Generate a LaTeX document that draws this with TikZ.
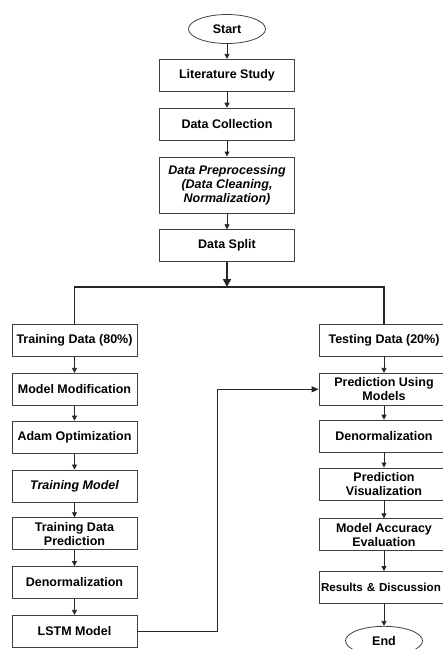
\documentclass[tikz,border=0pt]{standalone}
\usepackage{fontspec}
\setmainfont{Liberation Sans}
\usetikzlibrary{positioning,shapes.geometric,arrows.meta}

\begin{document}
\begin{tikzpicture}[x=1pt, y=1pt,
	font=\fontsize{12.5}{14}\selectfont\bfseries,
	box/.style={draw=black!75, line width=0.8pt, minimum height=32pt, inner xsep=2pt, inner ysep=2pt, align=center},
	midbox/.style={box, minimum width=135pt},
	leftbox/.style={box, minimum width=125pt},
	rightbox/.style={box, minimum width=130pt},
	term/.style={ellipse, draw=black!75, line width=0.8pt, minimum width=77pt, minimum height=29pt, inner sep=0pt},
	flow/.style={-{Triangle[length=5pt,width=5pt]}, line width=0.8pt, draw=black!85},
	main/.style={line width=1.6pt, draw=black!85}]
	\useasboundingbox (0,0) rectangle (443,-649);
	% centre column
	\node [term] (start) at (227,-29) {Start};
	\node [midbox, below=15pt of start] (lit) {Literature Study};
	\node [midbox, below=16pt of lit] (coll) {Data Collection};
	\node [midbox, minimum height=56pt, below=16pt of coll] (prep) {\itshape Data Preprocessing\\\itshape (Data Cleaning,\\\itshape Normalization)};
	\node [midbox, below=16pt of prep] (split) {Data Split};
	\coordinate (fork) at (227,-287);
	% left column
	\node [leftbox] (train) at (74.5,-340.5) {Training Data (80\%)};
	\node [leftbox, below=16pt of train] (modif) {Model Modification};
	\node [leftbox, below=15pt of modif] (adam) {Adam Optimization};
	\node [leftbox, below=16pt of adam] (trmod) {\itshape Training Model};
	\node [leftbox, below=15pt of trmod] (trpred) {Training Data\\Prediction};
	\node [leftbox, below=16pt of trpred] (denl) {Denormalization};
	\node [leftbox, below=16pt of denl] (lstm) {LSTM Model};
	% right column
	\node [rightbox] (test) at (384,-340.5) {Testing Data (20\%)};
	\node [rightbox, below=16pt of test] (pum) {Prediction Using\\Models};
	\node [rightbox, below=14pt of pum] (denr) {Denormalization};
	\node [rightbox, below=15pt of denr] (vis) {Prediction\\Visualization};
	\node [rightbox, below=18pt of vis] (acc) {Model Accuracy\\Evaluation};
	\node [rightbox, below=20pt of acc, text width=126pt, align=left, font=\fontsize{11.6}{14}\selectfont\bfseries] (res) {Results \& Discussion};
	\node [term, below=22pt of res] (end) {End};
	% connectors
	\draw [flow] (start) -- (lit);
	\draw [flow] (lit) -- (coll);
	\draw [flow] (coll) -- (prep);
	\draw [flow] (prep) -- (split);
	\draw [main, -{Triangle[length=8pt,width=8pt]}] (split) -- (fork);
	\draw [main] (train.north) |- (fork) -| (test.north);
	\draw [flow] (train) -- (modif);
	\draw [flow] (modif) -- (adam);
	\draw [flow] (adam) -- (trmod);
	\draw [flow] (trmod) -- (trpred);
	\draw [flow] (trpred) -- (denl);
	\draw [flow] (denl) -- (lstm);
	\draw [flow, line width=1.3pt, -{Triangle[length=7pt,width=6pt]}] (lstm.east) -- ++(80,0) |- (pum.west);
	\draw [flow] (test) -- (pum);
	\draw [flow] (pum) -- (denr);
	\draw [flow] (denr) -- (vis);
	\draw [flow] (vis) -- (acc);
	\draw [flow] (acc) -- (res);
	\draw [flow] (res) -- (end);
\end{tikzpicture}
\end{document}
